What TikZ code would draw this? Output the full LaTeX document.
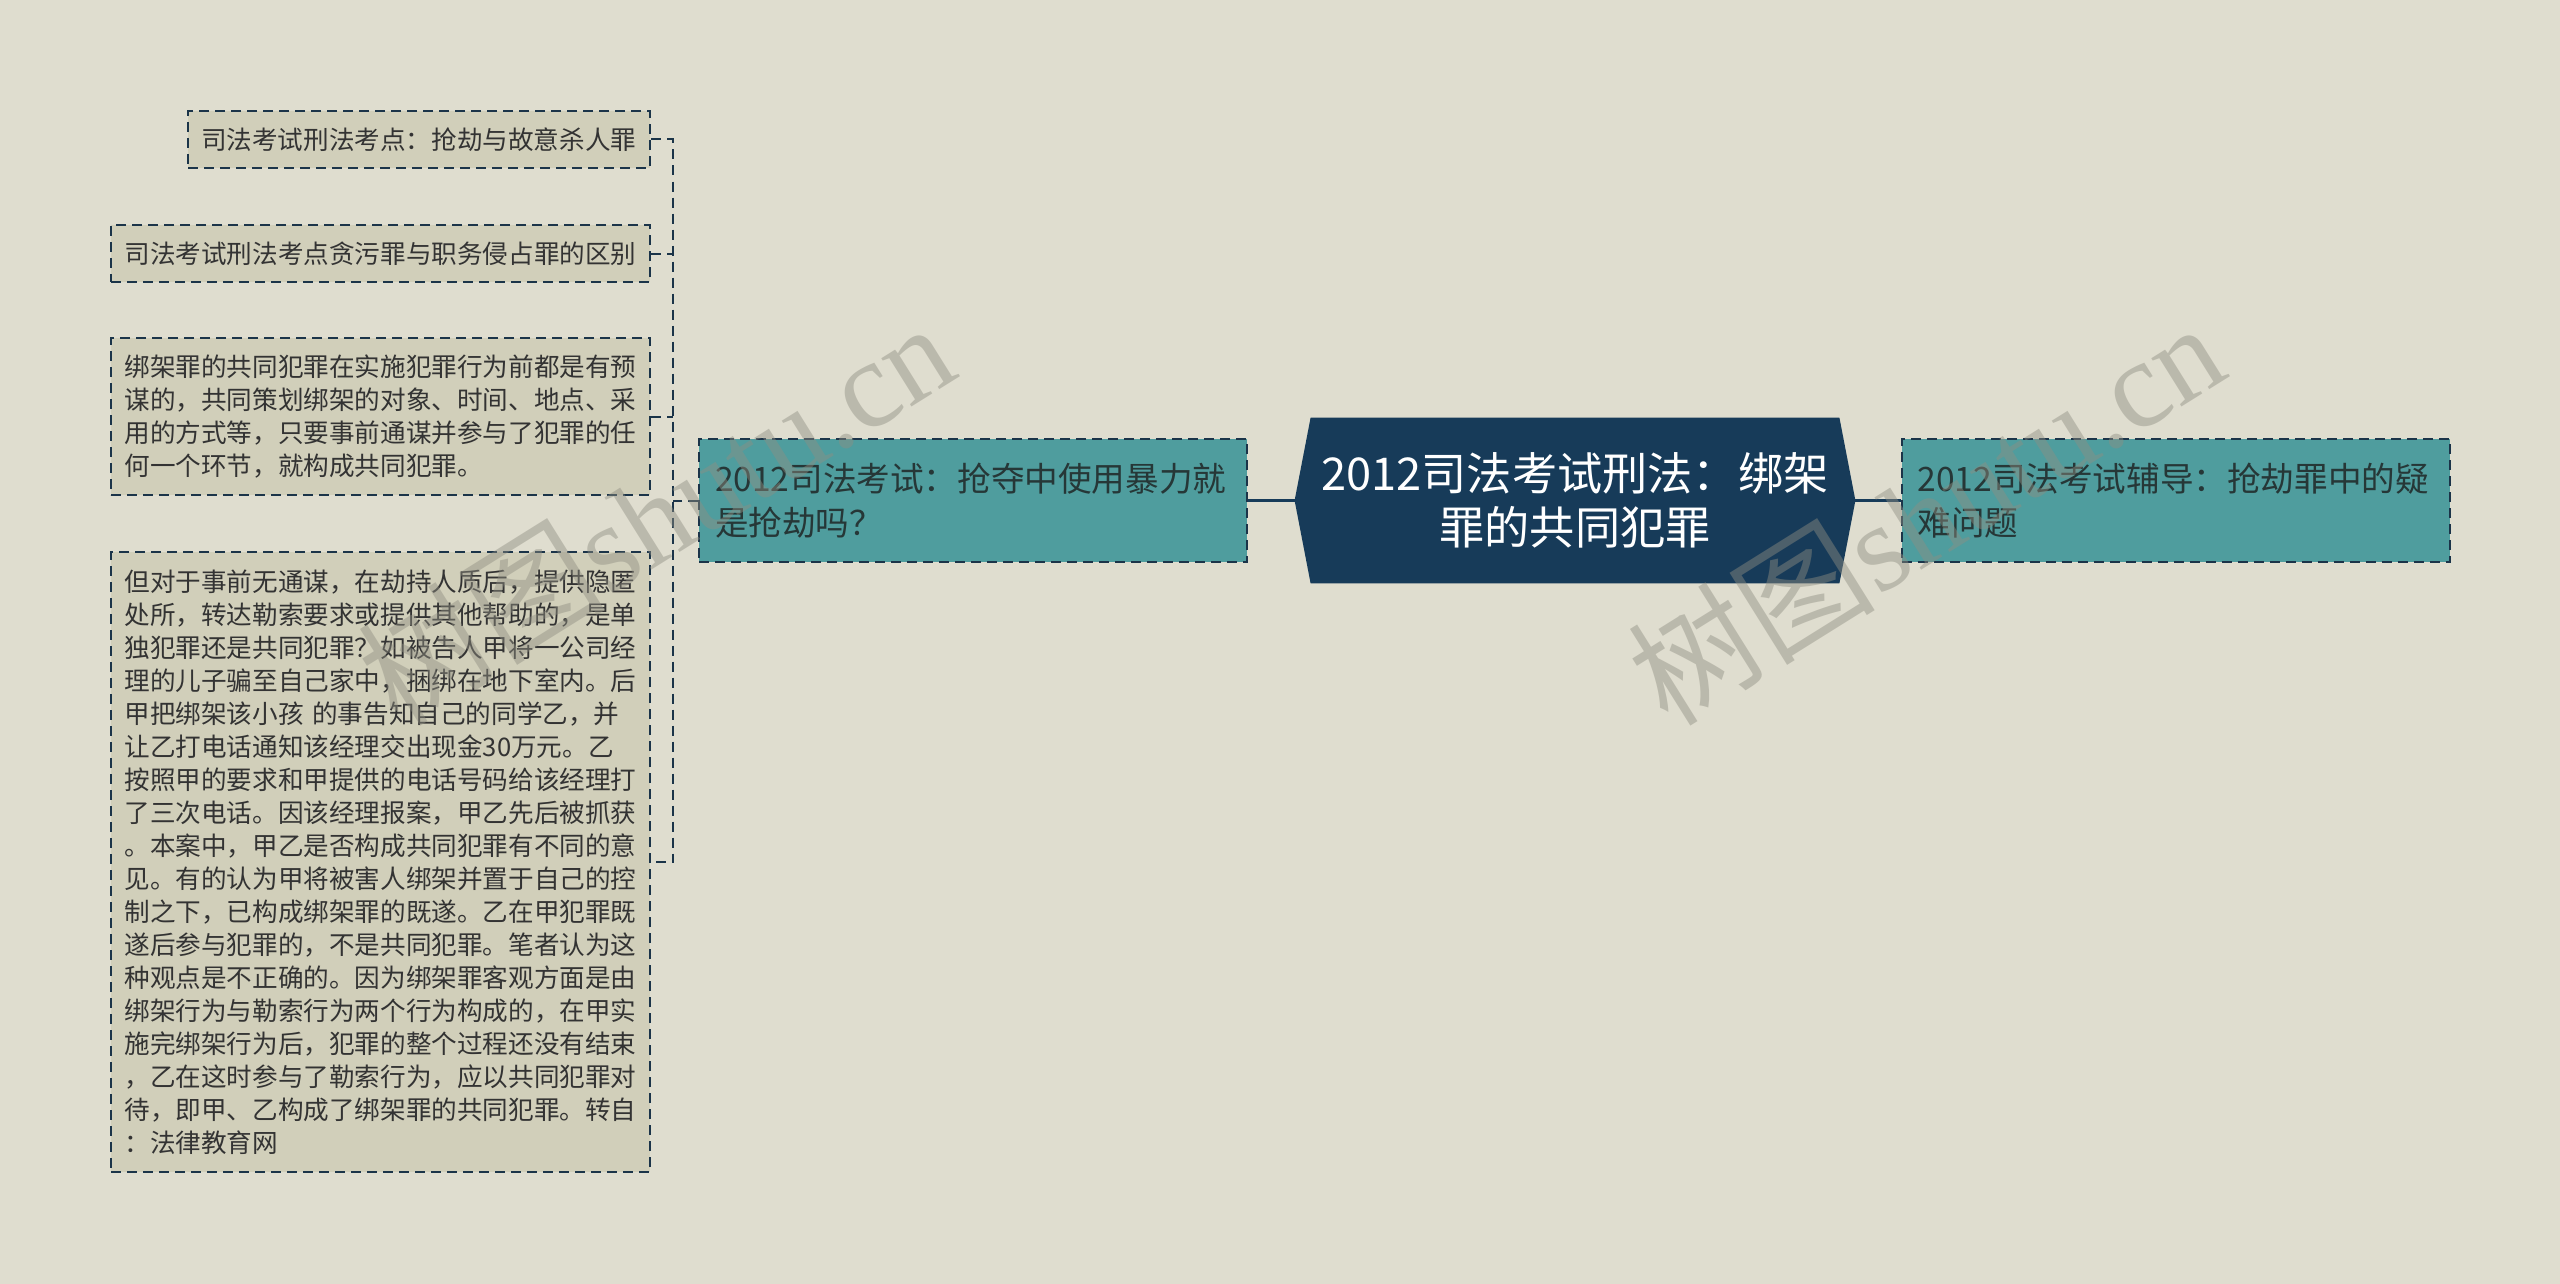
\documentclass[tikz,border=0pt]{standalone}
\usepackage{fontspec}
\setmainfont{Noto Sans CJK SC}
\newfontfamily\wmlat{Liberation Serif}
\usetikzlibrary{backgrounds}
\definecolor{bg}{HTML}{DFDDCF}
\definecolor{khaki}{HTML}{D1CFBA}
\definecolor{tealc}{HTML}{4F9D9E}
\definecolor{navy}{HTML}{173B59}
\definecolor{edge}{HTML}{1B3449}
\definecolor{txt}{HTML}{333333}
\definecolor{tealtxt}{HTML}{263737}
\definecolor{wm}{HTML}{8F8E82}
\begin{document}
\begin{tikzpicture}[x=0.5pt,y=-0.5pt,
  dashedge/.style={draw=edge, line width=1pt, dash pattern=on 5pt off 3pt},
  leafbox/.style={dashedge, fill=khaki, text=txt, align=left,
    inner xsep=6.75pt, inner ysep=0pt, text width=256pt,
    font=\fontsize{12.8pt}{16.5pt}\selectfont},
  tealbox/.style={dashedge, fill=tealc, text=tealtxt, align=left,
    inner xsep=8pt, inner ysep=0pt, text width=258pt, minimum height=61.5pt,
    font=\fontsize{16.8pt}{22pt}\selectfont},
  rootbox/.style={text=white, align=center, inner sep=0pt,
    minimum width=280pt, minimum height=82.5pt, text width=270pt,
    font=\fontsize{22.6pt}{27pt}\selectfont},
  conn/.style={dashedge},
  rootconn/.style={draw=navy, line width=1.25pt},
  watermark/.style={rotate=32, text=wm, opacity=0.45,
    font=\fontsize{62pt}{62pt}\selectfont}
]
\useasboundingbox (0,0) rectangle (2560,1284);

% left leaves
\node[leafbox, text width=218pt, inner xsep=6.5pt, minimum height=28.5pt] (b1) at (419,139.5)
  {司法考试刑法考点：抢劫与故意杀人罪};
\node[leafbox, minimum height=28.5pt] (b2) at (380.5,253.5)
  {司法考试刑法考点贪污罪与职务侵占罪的区别};
\node[leafbox, minimum height=78.5pt] (b3) at (380.5,416.5)
  {绑架罪的共同犯罪在实施犯罪行为前都是有预\\
   谋的，共同策划绑架的对象、时间、地点、采\\
   用的方式等，只要事前通谋并参与了犯罪的任\\
   何一个环节，就构成共同犯罪。};
\node[leafbox, minimum height=310pt] (b4) at (380.5,862)
  {但对于事前无通谋，在劫持人质后，提供隐匿\\
   处所，转达勒索要求或提供其他帮助的，是单\\
   独犯罪还是共同犯罪？如被告人甲将一公司经\\
   理的儿子骗至自己家中，捆绑在地下室内。后\\
   甲把绑架该小孩 的事告知自己的同学乙，并\\
   让乙打电话通知该经理交出现金30万元。乙\\
   按照甲的要求和甲提供的电话号码给该经理打\\
   了三次电话。因该经理报案，甲乙先后被抓获\\
   。本案中，甲乙是否构成共同犯罪有不同的意\\
   见。有的认为甲将被害人绑架并置于自己的控\\
   制之下，已构成绑架罪的既遂。乙在甲犯罪既\\
   遂后参与犯罪的，不是共同犯罪。笔者认为这\\
   种观点是不正确的。因为绑架罪客观方面是由\\
   绑架行为与勒索行为两个行为构成的，在甲实\\
   施完绑架行为后，犯罪的整个过程还没有结束\\
   ，乙在这时参与了勒索行为，应以共同犯罪对\\
   待，即甲、乙构成了绑架罪的共同犯罪。转自\\
   ：法律教育网};

% main branches
\node[tealbox] (lt) at (973,500.5) {2012司法考试：抢夺中使用暴力就\\是抢劫吗？};
\node[tealbox] (rt) at (2175.5,500.5) {2012司法考试辅导：抢劫罪中的疑\\难问题};
\node[rootbox] (c) at (1575,500.5) {2012司法考试刑法：绑架\\罪的共同犯罪};

\begin{scope}[on background layer]
  \fill[bg] (0,0) rectangle (2560,1284);
  \fill[navy] ([xshift=8pt]c.north west) -- ([xshift=-8pt]c.north east) -- (c.east)
    -- ([xshift=-8pt]c.south east) -- ([xshift=8pt]c.south west) -- (c.west) -- cycle;
\end{scope}

% connectors
\coordinate (tr) at (673,0);
\draw[conn] (b1.east) -- (b1.east -| tr) -- (b4.east -| tr) -- (b4.east);
\draw[conn] (b2.east) -- (b2.east -| tr);
\draw[conn] (b3.east) -- (b3.east -| tr);
\draw[conn] (lt.west) -- (lt.west -| tr);
\draw[rootconn] (c.west) -- (lt.east);
\draw[rootconn] (c.east) -- (rt.west);

% watermarks
\node[watermark] (wm1) at (655,512) {树图{\wmlat shutu.cn}};
\node[watermark] (wm2) at (1925,512) {树图{\wmlat shutu.cn}};
\end{tikzpicture}
\end{document}
